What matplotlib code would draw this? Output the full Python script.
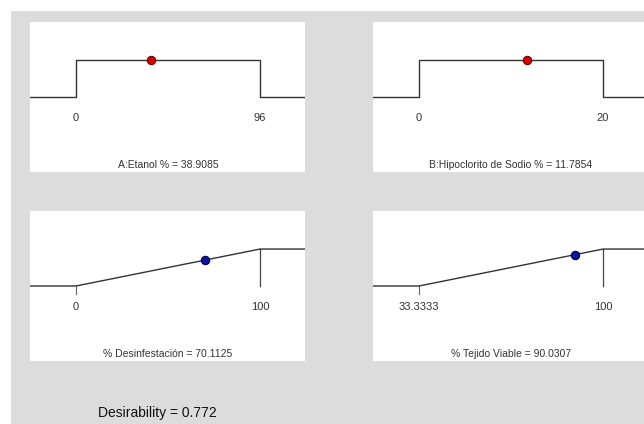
import matplotlib.pyplot as plt
from matplotlib.patches import Rectangle

# desirability ramps: factors (in range) and responses (maximize)
names = ["A:Etanol %", "B:Hipoclorito de Sodio %", "% Desinfestación", "% Tejido Viable"]
lows = [0, 0, 0, 33.3333]
highs = [96, 20, 100, 100]
low_labels = ["0", "0", "0", "33.3333"]
high_labels = ["96", "20", "100", "100"]
values = [38.9085, 11.7854, 70.1125, 90.0307]
value_labels = ["38.9085", "11.7854", "70.1125", "90.0307"]
goals = ["range", "range", "maximize", "maximize"]
desirability = 0.772

narrow = ["Liberation Sans", "DejaVu Sans"]

fig = plt.figure(figsize=(6.44, 4.24), dpi=100)
fig.patch.set_facecolor("white")
fig.add_artist(Rectangle((11 / 644, 0), 1, 1 - 11 / 424, transform=fig.transFigure,
                         facecolor="#dcdcdc", edgecolor="none", zorder=0))

# axes boxes in pixels (left, top) of the reference
boxes = [(30, 22), (373, 22), (30, 211), (373, 211)]
W, H = 275, 150

for i in range(4):
    x0, y0 = boxes[i]
    ax = fig.add_axes([x0 / 644, 1 - (y0 + H) / 424, W / 644, H / 424])
    ax.set_facecolor("white")
    for s in ax.spines.values():
        s.set_visible(False)
    ax.set_xticks([])
    ax.set_yticks([])

    lo, hi = lows[i], highs[i]
    span = hi - lo
    xl, xr = lo - 0.25 * span, hi + 0.245 * span
    ax.set_xlim(xl, xr)
    ax.set_ylim(-2.03, 2.03)

    if goals[i] == "range":
        xs = [xl, lo, lo, hi, hi, xr]
        ys = [0, 0, 1, 1, 0, 0]
        d = 1.0
        col, edge = "#d40000", "#7a0000"
    else:
        xs = [xl, lo, hi, xr]
        ys = [0, 0, 1, 1]
        d = (values[i] - lo) / span
        col, edge = "#0a14a0", "#000050"
        ax.plot([hi, hi], [1, 0], color="#444444", lw=0.9)
        ax.plot([lo, lo], [0, -0.22], color="#666666", lw=0.8)
    ax.plot(xs, ys, color="#333333", lw=1.0)
    ax.plot([values[i]], [d], "o", color=col, mec=edge, ms=6, mew=0.8, zorder=5)

    ax.text(lo, -0.56, low_labels[i], ha="center", va="center", fontsize=8,
            color="#333333", family=narrow)
    ax.text(hi, -0.56, high_labels[i], ha="center", va="center", fontsize=8,
            color="#333333", family=narrow)
    ax.text((lo + hi) / 2, -1.84, f"{names[i]} = {value_labels[i]}", ha="center",
            va="center", fontsize=7.5, color="#333333", family=narrow)

fig.text(157 / 644, 1 - 413 / 424, f"Desirability = {desirability:.3f}", ha="center",
         va="center", fontsize=10, color="#111111", family=narrow)

fig.savefig("out.png", dpi=100)
